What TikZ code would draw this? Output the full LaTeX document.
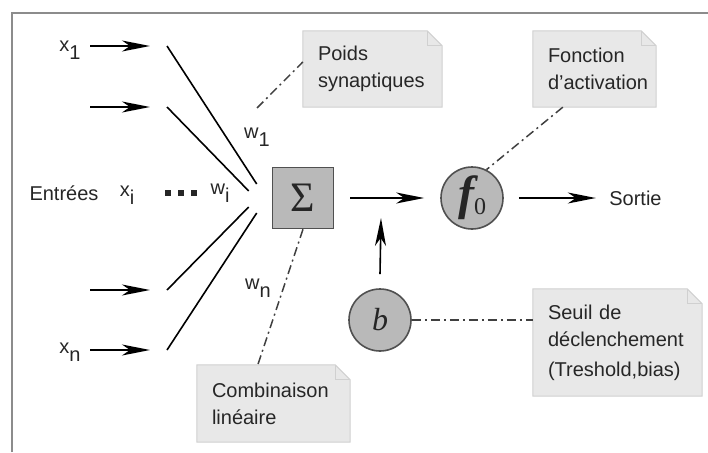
\documentclass[tikz,border=0pt]{standalone}
\usepackage{fontspec}
\setmainfont{Liberation Sans}
\newfontfamily\serifface{Liberation Serif}
\usepackage{tikz}
\usetikzlibrary{arrows.meta,positioning,backgrounds,calc}
\definecolor{notegray}{HTML}{E8E8E8}
\definecolor{noteedge}{HTML}{D0D0D0}
\definecolor{unitgray}{HTML}{B9B9B9}
\definecolor{edgegray}{HTML}{505050}
\definecolor{framegray}{HTML}{8C8C8C}
\newcommand{\lowidx}[1]{\raisebox{-0.42em}{#1}}

\begin{document}
\begin{tikzpicture}[x=1pt, y=-1pt,
  every node/.style={font=\fontsize{20}{27}\selectfont, text=black!85},
  note/.style={rectangle, align=left, inner xsep=15pt, inner ysep=0pt},
  unit/.style={circle, draw=edgegray, fill=unitgray, line width=1.6pt, minimum size=62pt, inner sep=0pt},
  sumbox/.style={rectangle, draw=edgegray, fill=unitgray, line width=1.6pt, minimum size=61pt, inner sep=0pt},
  arr/.style={-{Stealth[length=28pt,width=11pt,inset=8pt]}, line width=1.6pt},
  link/.style={line width=1.6pt},
  hint/.style={line width=1.5pt, black!75, dash pattern=on 9pt off 4pt on 2pt off 4pt}
]
\useasboundingbox (0,0) rectangle (708,452);

% ---- frame ----
\draw[framegray, line width=1.5pt] (12,452) -- (12,13) -- (708,13);

% ---- neuron ----
\node[sumbox] (sum) at (303,198) {\serifface\fontsize{42}{42}\selectfont Σ};
\node[unit] (f) at (472,198) {\serifface\fontsize{48}{48}\selectfont\bfseries\itshape f\raisebox{-5pt}{\mdseries\upshape\fontsize{24}{24}\selectfont 0}};
\node[unit] (b) at (380,320) {\serifface\fontsize{32}{32}\selectfont\itshape b};
\node[right=102pt of f] (out) {Sortie};

% ---- inputs ----
\foreach \i/\y in {1/46, 2/107, 3/290, 4/350} {
  \coordinate (in\i) at (90,\y);
  \coordinate (tip\i) at (150,\y);
  \coordinate (syn\i) at (167,\y);
  \draw[arr] (in\i) -- (tip\i);
}
\draw[link] (syn1) -- ([xshift=-15pt,yshift=14pt]sum.west);
\draw[link] (syn2) -- ([xshift=-23pt,yshift=7pt]sum.west);
\draw[link] (syn3) -- ([xshift=-23pt,yshift=-9pt]sum.west);
\draw[link] (syn4) -- ([xshift=-15pt,yshift=-15pt]sum.west);

\node (x1) at (70,50) {x\lowidx{1}};
\node (xn) at (70,352) {x\lowidx{n}};
\node (entrees) at (64,193) {Entrées};
\node (xi) at (127,195) {x\lowidx{i}};
\node (dots) at (181,193) {\rule{6pt}{6pt}\hspace{7pt}\rule{6pt}{6pt}\hspace{7pt}\rule{6pt}{6pt}};
\node (wi) at (220,193) {w\lowidx{i}};
\node (w1) at (257,137) {w\lowidx{1}};
\node (wn) at (258,288) {w\lowidx{n}};

% ---- flow ----
\draw[arr] ([xshift=16pt]sum.east) -- ([xshift=-16pt]f.west);
\draw[arr] ([xshift=15pt]f.east) -- ([xshift=-10pt]out.west);
\coordinate (biasin) at (381,218);
\draw[arr] ([yshift=14pt]b.north) -- (biasin);

% ---- notes ----
\node[note, text width=109pt, minimum width=139pt, minimum height=76pt] (poids) at (372.5,69) {Poids\\synaptiques};
\node[note, text width=93pt, minimum width=123pt, minimum height=76pt] (fonc) at (594.5,69) {Fonction\\d'activation};
\node[note, text width=123pt, minimum width=153pt, minimum height=77pt] (combi) at (273.5,403.5) {Combinaison\\linéaire};
\node[note, text width=139pt, minimum width=169pt, minimum height=107pt] (seuil) at (617.5,342.5) {Seuil de\\déclenchement\\[3pt](Treshold,bias)};

\begin{pgfonlayer}{background}
\foreach \n in {poids,fonc,combi,seuil} {
  \filldraw[fill=notegray, draw=noteedge, line width=1pt] (\n.north west) -- ([xshift=-15pt]\n.north east)
    -- ([yshift=-15pt]\n.north east) -- (\n.south east) -- (\n.south west) -- cycle;
  \draw[noteedge, line width=1pt] ([xshift=-15pt]\n.north east) -- ([xshift=-15pt,yshift=-15pt]\n.north east)
    -- ([yshift=-15pt]\n.north east);
}
\end{pgfonlayer}

% ---- dash-dot hints ----
\draw[hint] ([yshift=16pt]w1.north) -- ([yshift=7pt]poids.west);
\draw[hint] ([xshift=30pt]fonc.south west) -- (f.63);
\draw[hint] (sum.south) -- ([xshift=61pt]combi.north west);
\draw[hint] (b.east) -- (b.east -| seuil.west);

\end{tikzpicture}
\end{document}
